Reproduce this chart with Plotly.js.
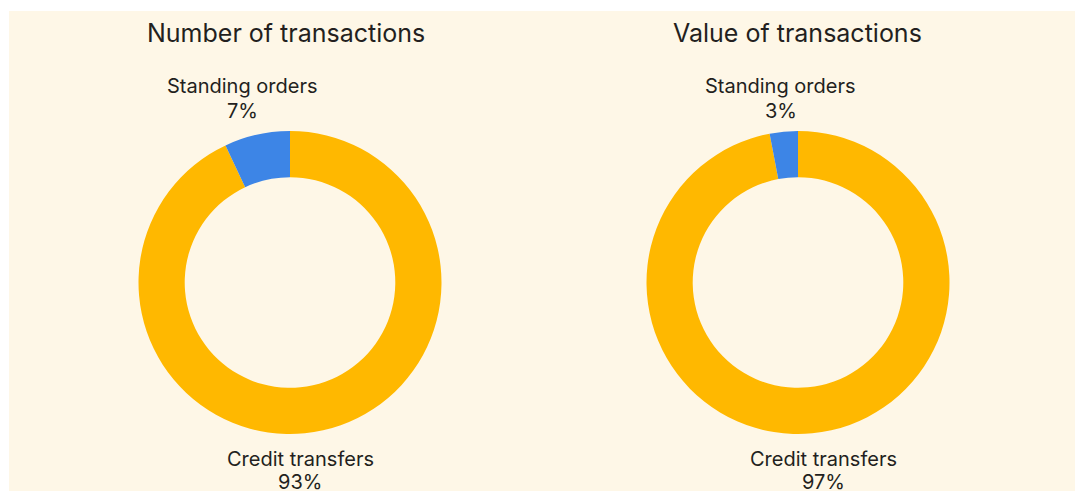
<!DOCTYPE html>
<html><head><meta charset="utf-8">
<script src="https://cdn.plot.ly/plotly-3.0.1.min.js"></script>
<style>
html,body{margin:0;padding:0;background:#ffffff;width:1075px;height:491px;overflow:hidden;}
#chart{position:absolute;left:9px;top:11px;width:1066px;height:480px;}
</style></head>
<body><div id="chart"></div>
<script>
const chartTitles = ["Number of transactions", "Value of transactions"];
const categories = ["Credit transfers", "Standing orders"];
const numberShares = [93, 7];
const valueShares = [97, 3];
const colors = ["#FFB800", "#3D85E6"];

const W = 1066, H = 480;
const textColor = "#231F20";
const font = "Inter, Liberation Sans, Arial, sans-serif";

// pixel geometry (relative to chart div)
const centers = [281, 789];
const cy = 271.5, R = 151.5;

const series = [numberShares, valueShares];
const traces = series.map((vals, i) => ({
  type: "pie",
  labels: categories,
  values: vals,
  sort: false,
  direction: "clockwise",
  rotation: 0,
  hole: 0.695,
  textinfo: "none",
  hoverinfo: "label+percent",
  marker: {colors: colors, line: {width: 0}},
  domain: {
    x: [(centers[i] - R) / W, (centers[i] + R) / W],
    y: [(H - cy - R) / H, (H - cy + R) / H]
  },
  showlegend: false
}));

const px = x => x / W;
const py = y => 1 - y / H;
const annotations = [];
const titleX = [277, 788.5];
const soX = [233, 771.5];
const ctX = [291, 814.5];
const lab = {size: 20, color: textColor, family: font};
chartTitles.forEach((t, i) => {
  annotations.push({text: t, x: px(titleX[i]), y: py(22), xref: "paper", yref: "paper",
    xanchor: "center", yanchor: "middle", showarrow: false,
    font: {size: 25, color: textColor, family: font}});
  const vals = series[i];
  annotations.push({text: categories[1], x: px(soX[i]), y: py(75), xref: "paper", yref: "paper",
    xanchor: "center", yanchor: "middle", showarrow: false, font: lab});
  annotations.push({text: vals[1] + "%", x: px(soX[i]), y: py(100), xref: "paper", yref: "paper",
    xanchor: "center", yanchor: "middle", showarrow: false, font: lab});
  annotations.push({text: categories[0], x: px(ctX[i]), y: py(448), xref: "paper", yref: "paper",
    xanchor: "center", yanchor: "middle", showarrow: false, font: lab});
  annotations.push({text: vals[0] + "%", x: px(ctX[i]), y: py(471), xref: "paper", yref: "paper",
    xanchor: "center", yanchor: "middle", showarrow: false, font: lab});
});

Plotly.newPlot("chart", traces, {
  width: W, height: H,
  margin: {l: 0, r: 0, t: 0, b: 0},
  paper_bgcolor: "#FEF7E7",
  plot_bgcolor: "#FEF7E7",
  annotations: annotations,
  showlegend: false
}, {displayModeBar: false, staticPlot: true});
</script></body></html>
